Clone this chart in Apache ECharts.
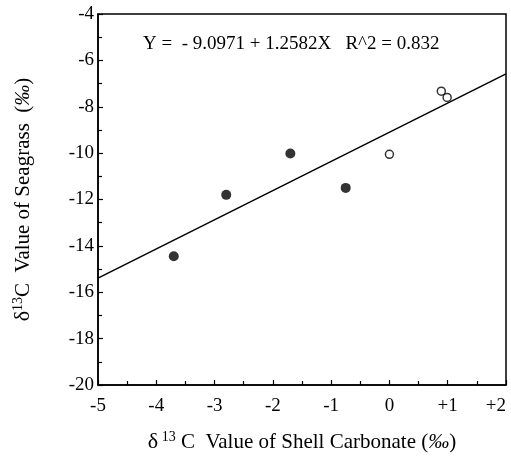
<!DOCTYPE html>
<html><head><meta charset="utf-8">
<script src="https://cdn.jsdelivr.net/npm/echarts@6/dist/echarts.min.js"></script>
<style>html,body{margin:0;padding:0;background:#fff}#c{width:511px;height:457px}</style>
</head><body><div id="c"></div>
<script>
// Filled circles (shell carbonate δ13C, seagrass δ13C)
const filledPoints = [[-3.7, -14.45], [-2.8, -11.8], [-1.7, -10.02], [-0.75, -11.5]];
// Open circles
const openPoints = [[0.0, -10.05], [0.89, -7.33], [0.99, -7.6]];
// Regression line endpoints (Y = -9.0971 + 1.2582X)
const fitLine = [[-5, -15.39], [2, -6.58]];
const xTickLabels = {"-5": "-5", "-4": "-4", "-3": "-3", "-2": "-2", "-1": "-1", "0": "0", "1": "+1", "2": "+2"};
const equationText = "Y =  - 9.0971 + 1.2582X   R^2 = 0.832";

const FONT = "Liberation Serif";
const richStyles = {
  d: {fontFamily: FONT, fontSize: 22, color: '#000'},
  s: {fontFamily: FONT, fontSize: 14, color: '#000', padding: [0, 0, 11, 0]},
  t: {fontFamily: FONT, fontSize: 21, color: '#000'},
  i: {fontFamily: FONT, fontSize: 21, fontStyle: 'italic', color: '#000'}
};
const chart = echarts.init(document.getElementById('c'), null, {renderer: 'canvas'});
chart.setOption({
  animation: false,
  backgroundColor: '#fff',
  grid: {left: 98, right: 5, top: 14, bottom: 72, outerBoundsMode: 'none', containLabel: false,
    show: true, borderColor: '#000', borderWidth: 1.5, backgroundColor: 'transparent'},
  xAxis: {
    type: 'value', min: -5, max: 2, interval: 1,
    axisLine: {show: true, onZero: false, lineStyle: {color: '#000', width: 1.5}},
    axisTick: {show: true, inside: true, length: 5, lineStyle: {color: '#000', width: 1.2}},
    minorTick: {show: true, splitNumber: 2, length: 4, lineStyle: {color: '#000', width: 1.2}},
    splitLine: {show: false},
    axisLabel: {color: '#000', fontFamily: FONT, fontSize: 19, margin: 12, alignMaxLabel: 'right',
      formatter: v => xTickLabels[String(v)] ?? String(v)},
    name: '{d|δ}{s| 13}{t| C  Value of Shell Carbonate (}{i|‰}{t|)}',
    nameLocation: 'middle', nameGap: 45,
    nameTextStyle: {color: '#000', fontFamily: FONT, fontSize: 21, rich: richStyles}
  },
  yAxis: {
    type: 'value', min: -20, max: -4, interval: 2,
    axisLine: {show: true, onZero: false, lineStyle: {color: '#000', width: 1.5}},
    axisTick: {show: true, inside: true, length: 5, lineStyle: {color: '#000', width: 1.2}},
    minorTick: {show: true, splitNumber: 2, length: 4, lineStyle: {color: '#000', width: 1.2}},
    splitLine: {show: false},
    axisLabel: {color: '#000', fontFamily: FONT, fontSize: 19, margin: 4},
    name: '{d|δ}{s|13}{t|C  Value of Seagrass  (}{i|‰}{t|)}',
    nameLocation: 'middle', nameGap: 62, nameRotate: 90,
    nameTextStyle: {color: '#000', fontFamily: FONT, fontSize: 21, rich: richStyles}
  },
  graphic: [{
    type: 'text', left: 143, top: 35,
    style: {text: equationText, fontFamily: FONT, fontSize: 19, fill: '#000'}
  }],
  series: [
    {type: 'line', data: fitLine, symbol: 'none', lineStyle: {color: '#000', width: 1.5}, z: 2},
    {type: 'scatter', data: filledPoints, symbol: 'circle', symbolSize: 10,
      itemStyle: {color: '#000'}, z: 3},
    {type: 'scatter', data: openPoints, symbol: 'circle', symbolSize: 8,
      itemStyle: {color: '#fff', borderColor: '#000', borderWidth: 1.5}, z: 3}
  ]
});
</script></body></html>
